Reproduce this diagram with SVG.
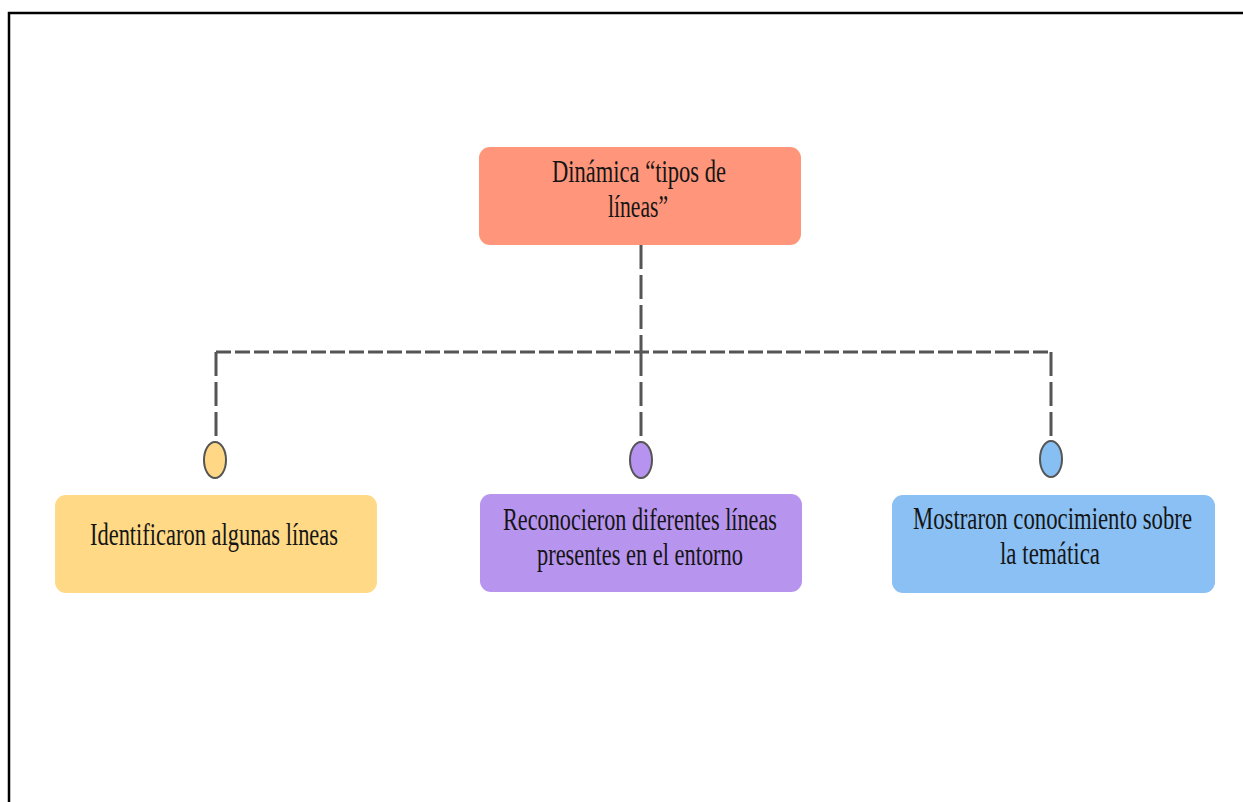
<svg xmlns="http://www.w3.org/2000/svg" width="1243" height="802" viewBox="0 0 1243 802">
<style>
.t{font-family:"Liberation Serif","Times New Roman",serif;font-size:22.5px;fill:#151515}
.box{stroke:none}
.dh{fill:none;stroke:#555;stroke-width:3;stroke-dasharray:15 4}
.dv{fill:none;stroke:#555;stroke-width:3;stroke-dasharray:24 6}
.dot{stroke:#555;stroke-width:2}
</style>
<rect width="1243" height="802" fill="#fff"/>
<path d="M9 802 V13 H1243" fill="none" stroke="#000" stroke-width="2.5"/>
<g id="connectors">
<path class="dv" d="M641 245 V352"/>
<path class="dh" d="M216 352 H1051"/>
<path class="dv" d="M216 352 V442"/>
<path class="dv" d="M641 352 V442"/>
<path class="dv" d="M1051 352 V442"/>
<ellipse class="dot" cx="215" cy="460" rx="11" ry="18" fill="#FFD785"/>
<ellipse class="dot" cx="641" cy="460" rx="11" ry="18" fill="#B693EE"/>
<ellipse class="dot" cx="1051" cy="459" rx="11" ry="18" fill="#88BFF3"/>
</g>
<g id="n0">
<rect class="box" x="479" y="147" width="322" height="98" rx="11" fill="#FF967B"/>
<text class="t" transform="translate(552,182) scale(1,1.38)" textLength="174" lengthAdjust="spacingAndGlyphs">Dinámica “tipos de</text>
<text class="t" transform="translate(608,217) scale(1,1.38)" textLength="60" lengthAdjust="spacingAndGlyphs">líneas”</text>
</g>
<g id="n1">
<rect class="box" x="55" y="495" width="322" height="98" rx="11" fill="#FFD985"/>
<text class="t" transform="translate(90,545) scale(1,1.38)" textLength="248" lengthAdjust="spacingAndGlyphs">Identificaron algunas líneas</text>
</g>
<g id="n2">
<rect class="box" x="480" y="494" width="322" height="98" rx="11" fill="#B794EE"/>
<text class="t" transform="translate(503,530) scale(1,1.38)" textLength="274" lengthAdjust="spacingAndGlyphs">Reconocieron diferentes líneas</text>
<text class="t" transform="translate(537,565) scale(1,1.38)" textLength="206" lengthAdjust="spacingAndGlyphs">presentes en el entorno</text>
</g>
<g id="n3">
<rect class="box" x="892" y="495" width="323" height="98" rx="11" fill="#8AC0F4"/>
<text class="t" transform="translate(913,529) scale(1,1.38)" textLength="279" lengthAdjust="spacingAndGlyphs">Mostraron conocimiento sobre</text>
<text class="t" transform="translate(1000,564) scale(1,1.38)" textLength="100" lengthAdjust="spacingAndGlyphs">la temática</text>
</g>
</svg>
